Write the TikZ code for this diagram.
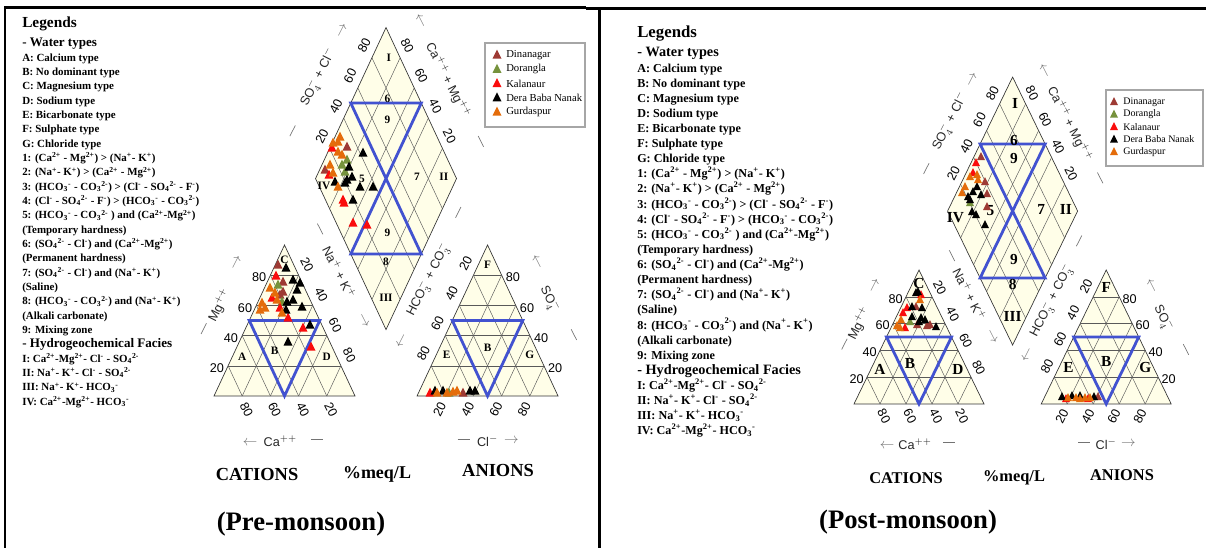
\documentclass[tikz,border=0pt]{standalone}
\usepackage{fontspec}
\setmainfont{Liberation Serif}
\setsansfont{Liberation Sans}
\usetikzlibrary{positioning}

\definecolor{cream}{RGB}{255,254,232}
\definecolor{piperblue}{RGB}{66,82,208}
\definecolor{dina}{RGB}{158,58,52}
\definecolor{dora}{RGB}{118,146,60}
\definecolor{kala}{RGB}{250,12,12}
\definecolor{dbn}{RGB}{0,0,0}
\definecolor{gurd}{RGB}{228,108,10}

\tikzset{
  trifill/.style={fill=cream, draw=black!80, line width=0.5pt},
  gridln/.style={draw=black!65, line width=0.35pt},
  blueln/.style={draw=piperblue, line width=2.1pt, line join=miter},
  tickl/.style={font=\fontsize{9.5}{10}\sffamily, inner sep=0pt},
  axt/.style={font=\fontsize{9.5}{10}\sffamily, inner sep=0pt, text=black!85},
  axarr/.style={font=\fontsize{11}{11}\selectfont, inner sep=0pt, text=black!55},
  legbody/.style={align=left, inner sep=0pt, anchor=north west},
  legframe/.style={draw=gray!70, fill=white, line width=0.8pt, inner sep=0pt},
  legtxt/.style={inner sep=0pt, anchor=west},
  bigl/.style={inner sep=0pt},
}

% one data marker: colour, x, y (pixels)
\def\ms{4.5}
\newcommand\mk[3]{\fill[fill=#1] (#2-\ms,#3+0.8*\ms) -- (#2+\ms,#3+0.8*\ms) -- (#2,#3-1.2*\ms) -- cycle;}
\newcommand\dashrl{\rule[0.6ex]{9pt}{0.5pt}}
\newcommand\ch[3]{#1\textsubscript{#2}\textsuperscript{#3}}

\newcommand\legtext[3]{%
{\fontsize{#1}{10}\selectfont Legends}\\[#3]
{\fontsize{#2}{10}\selectfont - Water types}\\
A: Calcium type\\
B: No dominant type\\
C: Magnesium type\\
D: Sodium type\\
E: Bicarbonate type\\
F: Sulphate type\\
G: Chloride type\\
1: (Ca\textsuperscript{2+} - Mg\textsuperscript{2+}) > (Na\textsuperscript{+}- K\textsuperscript{+})\\
2: (Na\textsuperscript{+}- K\textsuperscript{+}) > (Ca\textsuperscript{2+} - Mg\textsuperscript{2+})\\
3: (\ch{HCO}{3}{-} - \ch{CO}{3}{2-}) > (Cl\textsuperscript{-} - \ch{SO}{4}{2-} - F\textsuperscript{-})\\
4: (Cl\textsuperscript{-} - \ch{SO}{4}{2-} - F\textsuperscript{-}) > (\ch{HCO}{3}{-} - \ch{CO}{3}{2-})\\
5: (\ch{HCO}{3}{-} - \ch{CO}{3}{2-} ) and (Ca\textsuperscript{2+}-Mg\textsuperscript{2+})\\
(Temporary hardness)\\
6: (\ch{SO}{4}{2-} - Cl\textsuperscript{-}) and (Ca\textsuperscript{2+}-Mg\textsuperscript{2+})\\
(Permanent hardness)\\
7: (\ch{SO}{4}{2-} - Cl\textsuperscript{-}) and (Na\textsuperscript{+}- K\textsuperscript{+})\\
(Saline)\\
8: (\ch{HCO}{3}{-} - \ch{CO}{3}{2-}) and (Na\textsuperscript{+}- K\textsuperscript{+})\\
(Alkali carbonate)\\
9: Mixing zone\\
{\fontsize{#2}{10}\selectfont - Hydrogeochemical Facies}\\
I: Ca\textsuperscript{2+}-Mg\textsuperscript{2+}- Cl\textsuperscript{-} - \ch{SO}{4}{2-}\\
II: Na\textsuperscript{+}- K\textsuperscript{+}- Cl\textsuperscript{-} - \ch{SO}{4}{2-}\\
III: Na\textsuperscript{+}- K\textsuperscript{+}- \ch{HCO}{3}{-}\\
IV: Ca\textsuperscript{2+}-Mg\textsuperscript{2+}- \ch{HCO}{3}{-}}

% piper frame: origin x, origin y, side width, triangle height, label font, name prefix
\newcommand\piper[6]{%
\begin{scope}[shift={(#1,#2)}, x={(#3*0.75pt,0pt)}, y={(0pt,#4*0.75pt)}, zlbl/.style={font=#5, inner sep=0pt}]
% cations
\filldraw[trifill] (0,0) -- (1,0) -- (0.5,1) -- cycle;
\foreach \v in {20,40,60,80} {
  \draw[gridln] (\v/200,\v/100) -- (1-\v/200,\v/100);
  \draw[gridln] (\v/100,0) -- ({0.5+\v/200},1-\v/100);
  \draw[gridln] (\v/100,0) -- (\v/200,\v/100);
  \node[tickl] (#6mg\v) at (\v/200-0.08,\v/100-0.015) {\v};
  \node[tickl, rotate=-63] (#6na\v) at ({0.56+\v/200},1.07-\v/100) {\v};
  \node[tickl, rotate=-63] (#6ca\v) at (1.03-\v/100,-0.09) {\v};
}
\draw[blueln] (0.25,0.5) -- (0.75,0.5) -- (0.5,0) -- cycle;
\node[zlbl] (#6A) at (0.2,0.26) {A};
\node[zlbl] (#6B) at (0.43,0.3) {B};
\node[zlbl] (#6C) at (0.5,0.9) {C};
\node[zlbl] (#6D) at (0.8,0.26) {D};
% diamond
\filldraw[trifill] (1.22,0.44) -- (0.72,1.44) -- (1.22,2.44) -- (1.72,1.44) -- cycle;
\foreach \v in {20,40,60,80} {
  \draw[gridln] (1.22-\v/200,0.44+\v/100) -- (1.72-\v/200,1.44+\v/100);
  \draw[gridln] (1.22+\v/200,0.44+\v/100) -- (0.72+\v/200,1.44+\v/100);
  \node[tickl, rotate=63] (#6sc\v) at (0.665+\v/200,1.52+\v/100) {\v};
  \node[tickl, rotate=-63] (#6cm\v) at (1.77-\v/200,1.52+\v/100) {\v};
}
\draw[blueln] (0.97,1.94) -- (1.47,1.94) -- (0.97,0.94) -- (1.47,0.94) -- cycle;
\node[zlbl] (#6I) at (1.24,2.24) {I};
\node[zlbl] (#6six) at (1.23,1.97) {6};
\node[zlbl] (#6nineA) at (1.23,1.83) {9};
\node[zlbl] (#6five) at (1.05,1.44) {5};
\node[zlbl] (#6IV) at (0.78,1.39) {IV};
\node[zlbl] (#6seven) at (1.44,1.45) {7};
\node[zlbl] (#6II) at (1.63,1.45) {II};
\node[zlbl] (#6nineB) at (1.23,1.08) {9};
\node[zlbl] (#6eight) at (1.22,0.89) {8};
\node[zlbl] (#6III) at (1.22,0.65) {III};
% anions
\begin{scope}[shift={(1.44,0)}]
\filldraw[trifill] (0,0) -- (1,0) -- (0.5,1) -- cycle;
\foreach \v in {20,40,60,80} {
  \draw[gridln] (\v/200,\v/100) -- (1-\v/200,\v/100);
  \draw[gridln] (\v/100,0) -- ({0.5+\v/200},1-\v/100);
  \draw[gridln] (\v/100,0) -- (\v/200,\v/100);
  \node[tickl] (#6so\v) at (1.08-\v/200,\v/100-0.015) {\v};
  \node[tickl, rotate=63] (#6hc\v) at ({0.445-\v/200},1.08-\v/100) {\v};
  \node[tickl, rotate=63] (#6cl\v) at (\v/100-0.04,-0.09) {\v};
}
\draw[blueln] (0.25,0.5) -- (0.75,0.5) -- (0.5,0) -- cycle;
\node[zlbl] (#6E) at (0.21,0.27) {E};
\node[zlbl] (#6Bx) at (0.5,0.32) {B};
\node[zlbl] (#6F) at (0.5,0.87) {F};
\node[zlbl] (#6G) at (0.8,0.27) {G};
\end{scope}
% axis titles
\node[axt, rotate=63] (#6tMg) at (0.04,0.6) {Mg$^{++}$};
\node[axarr, rotate=63] (#6aMg) at (0.16,0.88) {$\rightarrow$};
\node[axarr, rotate=63] (#6dMg) at (-0.06,0.44) {\dashrl};
\node[axt, rotate=-63] (#6tNa) at (0.89,0.82) {Na$^{+}$ + K$^{+}$};
\node[axarr, rotate=-63] (#6aNa) at (1.06,0.5) {$\rightarrow$};
\node[axarr, rotate=-63] (#6dNa) at (0.74,1.1) {\dashrl};
\node[axt, rotate=63] (#6tHC) at (1.52,0.77) {HCO$_3^-$ + CO$_3^-$};
\node[axarr, rotate=243] (#6aHC) at (1.32,0.37) {$\rightarrow$};
\node[axarr, rotate=63] (#6dHC) at (1.745,1.21) {\dashrl};
\node[axt, rotate=-63] (#6tSO) at (2.38,0.64) {SO$_4^-$};
\node[axarr, rotate=117] (#6aSO) at (2.3,0.89) {$\rightarrow$};
\node[axarr, rotate=-63] (#6dSO) at (2.54,0.4) {\dashrl};
\node[axt, rotate=63] (#6tSC) at (0.74,2.11) {SO$_4^-$ + Cl$^-$};
\node[axarr, rotate=63] (#6aSC) at (0.91,2.42) {$\rightarrow$};
\node[axarr, rotate=63] (#6dSC) at (0.57,1.75) {\dashrl};
\node[axt, rotate=-63] (#6tCM) at (1.66,2.09) {Ca$^{++}$ + Mg$^{++}$};
\node[axarr, rotate=117] (#6aCM) at (1.475,2.49) {$\rightarrow$};
\node[axarr, rotate=-63] (#6dCM) at (1.88,1.68) {\dashrl};
\node[axarr, rotate=180] (#6aCa) at (0.255,-0.3) {$\rightarrow$};
\node[axt] (#6tCa) at (0.47,-0.3) {Ca$^{++}$};
\node[axarr] (#6dCa) at (0.73,-0.3) {\dashrl};
\node[axarr] (#6dCl) at (1.77,-0.3) {\dashrl};
\node[axt] (#6tCl) at (1.94,-0.3) {Cl$^-$};
\node[axarr] (#6aCl) at (2.11,-0.3) {$\rightarrow$};
\end{scope}}

\begin{document}
\begin{tikzpicture}[x=0.75pt, y=-0.75pt]
\useasboundingbox (0,0) rectangle (1206,548);

% table rules
\draw[line width=1.6pt] (5,548) -- (5,7.5) -- (586,7.5);
\draw[line width=1.6pt] (586,8.5) -- (1206,8.5);
\draw[line width=1.6pt] (599.5,8.5) -- (599.5,548);

% Pre-monsoon
\node[legbody, font=\fontsize{8.2}{10.75}\selectfont\bfseries] (Lleg) at (22,17) {\legtext{11.5}{9.8}{3.5pt}};
\piper{214}{396}{141}{151}{\fontsize{8.5}{9}\selectfont\bfseries}{L}

\def\ms{4.5}
\foreach \px/\py in {278/265,283/282,283/292,280/295,347/147,325/170,463/393} {\mk{dina}{\px}{\py}}
\foreach \px/\py in {278/285,282/302,347/160,342/165,345/172,449/393} {\mk{dora}{\px}{\py}}
\foreach \px/\py in {276/276,272/298,280/308,288/318,303/328,311/347,332/148,329/175,343/200,344/203,353/223,367/225,430/393} {\mk{kala}{\px}{\py}}
\foreach \px/\py in {286/268,293/280,300/283,297/290,287/302,293/300,302/307,286/310,310/325,288/342,363/153,349/167,352/177,347/180,335/182,345/183,360/187,373/187,353/200,435/391,443/391,470/391,475/391} {\mk{dbn}{\px}{\py}}
\foreach \px/\py in {270/288,275/293,262/303,265/308,277/300,282/313,260/310,340/137,333/143,338/152,342/155,330/165,333/173,338/187,338/142,437/393,447/393,453/392,457/391} {\mk{gurd}{\px}{\py}}

\node[legframe, minimum width=75pt, minimum height=63pt] (Lbox) at (535,85) {};
\foreach \c/\t [count=\i from 0] in {dina/Dinanagar, dora/Dorangla, kala/Kalanaur, dbn/Dera Baba Nanak, gurd/Gurdaspur} {
  \mk{\c}{497}{55+14.25*\i}
  \node[legtxt, font=\fontsize{8}{9}\selectfont] (Lk\i) at (506,55+14.25*\i) {\t};
}

\node[bigl, font=\fontsize{13.8}{14}\selectfont\bfseries] (Lcat) at (257,474) {CATIONS};
\node[bigl, font=\fontsize{13.5}{14}\selectfont\bfseries] (Lmeq) at (377,474) {\%meq/L};
\node[bigl, font=\fontsize{13.8}{14}\selectfont\bfseries] (Lani) at (498,470) {ANIONS};
\node[bigl, font=\fontsize{20}{22}\selectfont\bfseries] (Lpre) at (301,524) {(Pre-monsoon)};

% Post-monsoon
\node[legbody, font=\fontsize{9.1}{11.34}\selectfont\bfseries] (Rleg) at (637,26) {\legtext{12.6}{10.7}{2.9pt}};
\piper{854}{404}{130}{134}{\fontsize{11.5}{12}\selectfont\bfseries}{R}

\def\ms{4}
\foreach \px/\py in {916/307,917/325,927/326,930/325,981/157,985/182,987/194,987/207,1098/397} {\mk{dina}{\px}{\py}}
\foreach \px/\py in {910/322,970/203} {\mk{dora}{\px}{\py}}
\foreach \px/\py in {921/295,907/308,903/313,905/328,976/163,973/173,1066/399,1088/399} {\mk{kala}{\px}{\py}}
\foreach \px/\py in {918/292,916/293,912/307,922/308,912/317,921/318,925/320,936/327,919/322,977/187,973/192,968/197,981/195,972/212,976/215,985/225,970/200,1062/397,1072/396,1080/396,1094/397} {\mk{dbn}{\px}{\py}}
\foreach \px/\py in {920/300,901/320,897/326,900/328,970/177,977/175,965/187,962/193,978/180,1068/398,1076/398,1085/398,1090/398,1080/399} {\mk{gurd}{\px}{\py}}

\node[legframe, minimum width=72.75pt, minimum height=57pt] (Rbox) at (1154.5,128) {};
\foreach \c/\t [count=\i from 0] in {dina/Dinanagar, dora/Dorangla, kala/Kalanaur, dbn/Dera Baba Nanak, gurd/Gurdaspur} {
  \mk{\c}{1114}{102+12.5*\i}
  \node[legtxt, font=\fontsize{7.5}{8}\selectfont] (Rk\i) at (1123,102+12.5*\i) {\t};
}

\node[bigl, font=\fontsize{12.3}{13}\selectfont\bfseries] (Rcat) at (906,478) {CATIONS};
\node[bigl, font=\fontsize{12.3}{13}\selectfont\bfseries] (Rmeq) at (1014,478) {\%meq/L};
\node[bigl, font=\fontsize{12.3}{13}\selectfont\bfseries] (Rani) at (1122,475) {ANIONS};
\node[bigl, font=\fontsize{20}{22}\selectfont\bfseries] (Rpost) at (908,522) {(Post-monsoon)};
\end{tikzpicture}
\end{document}
